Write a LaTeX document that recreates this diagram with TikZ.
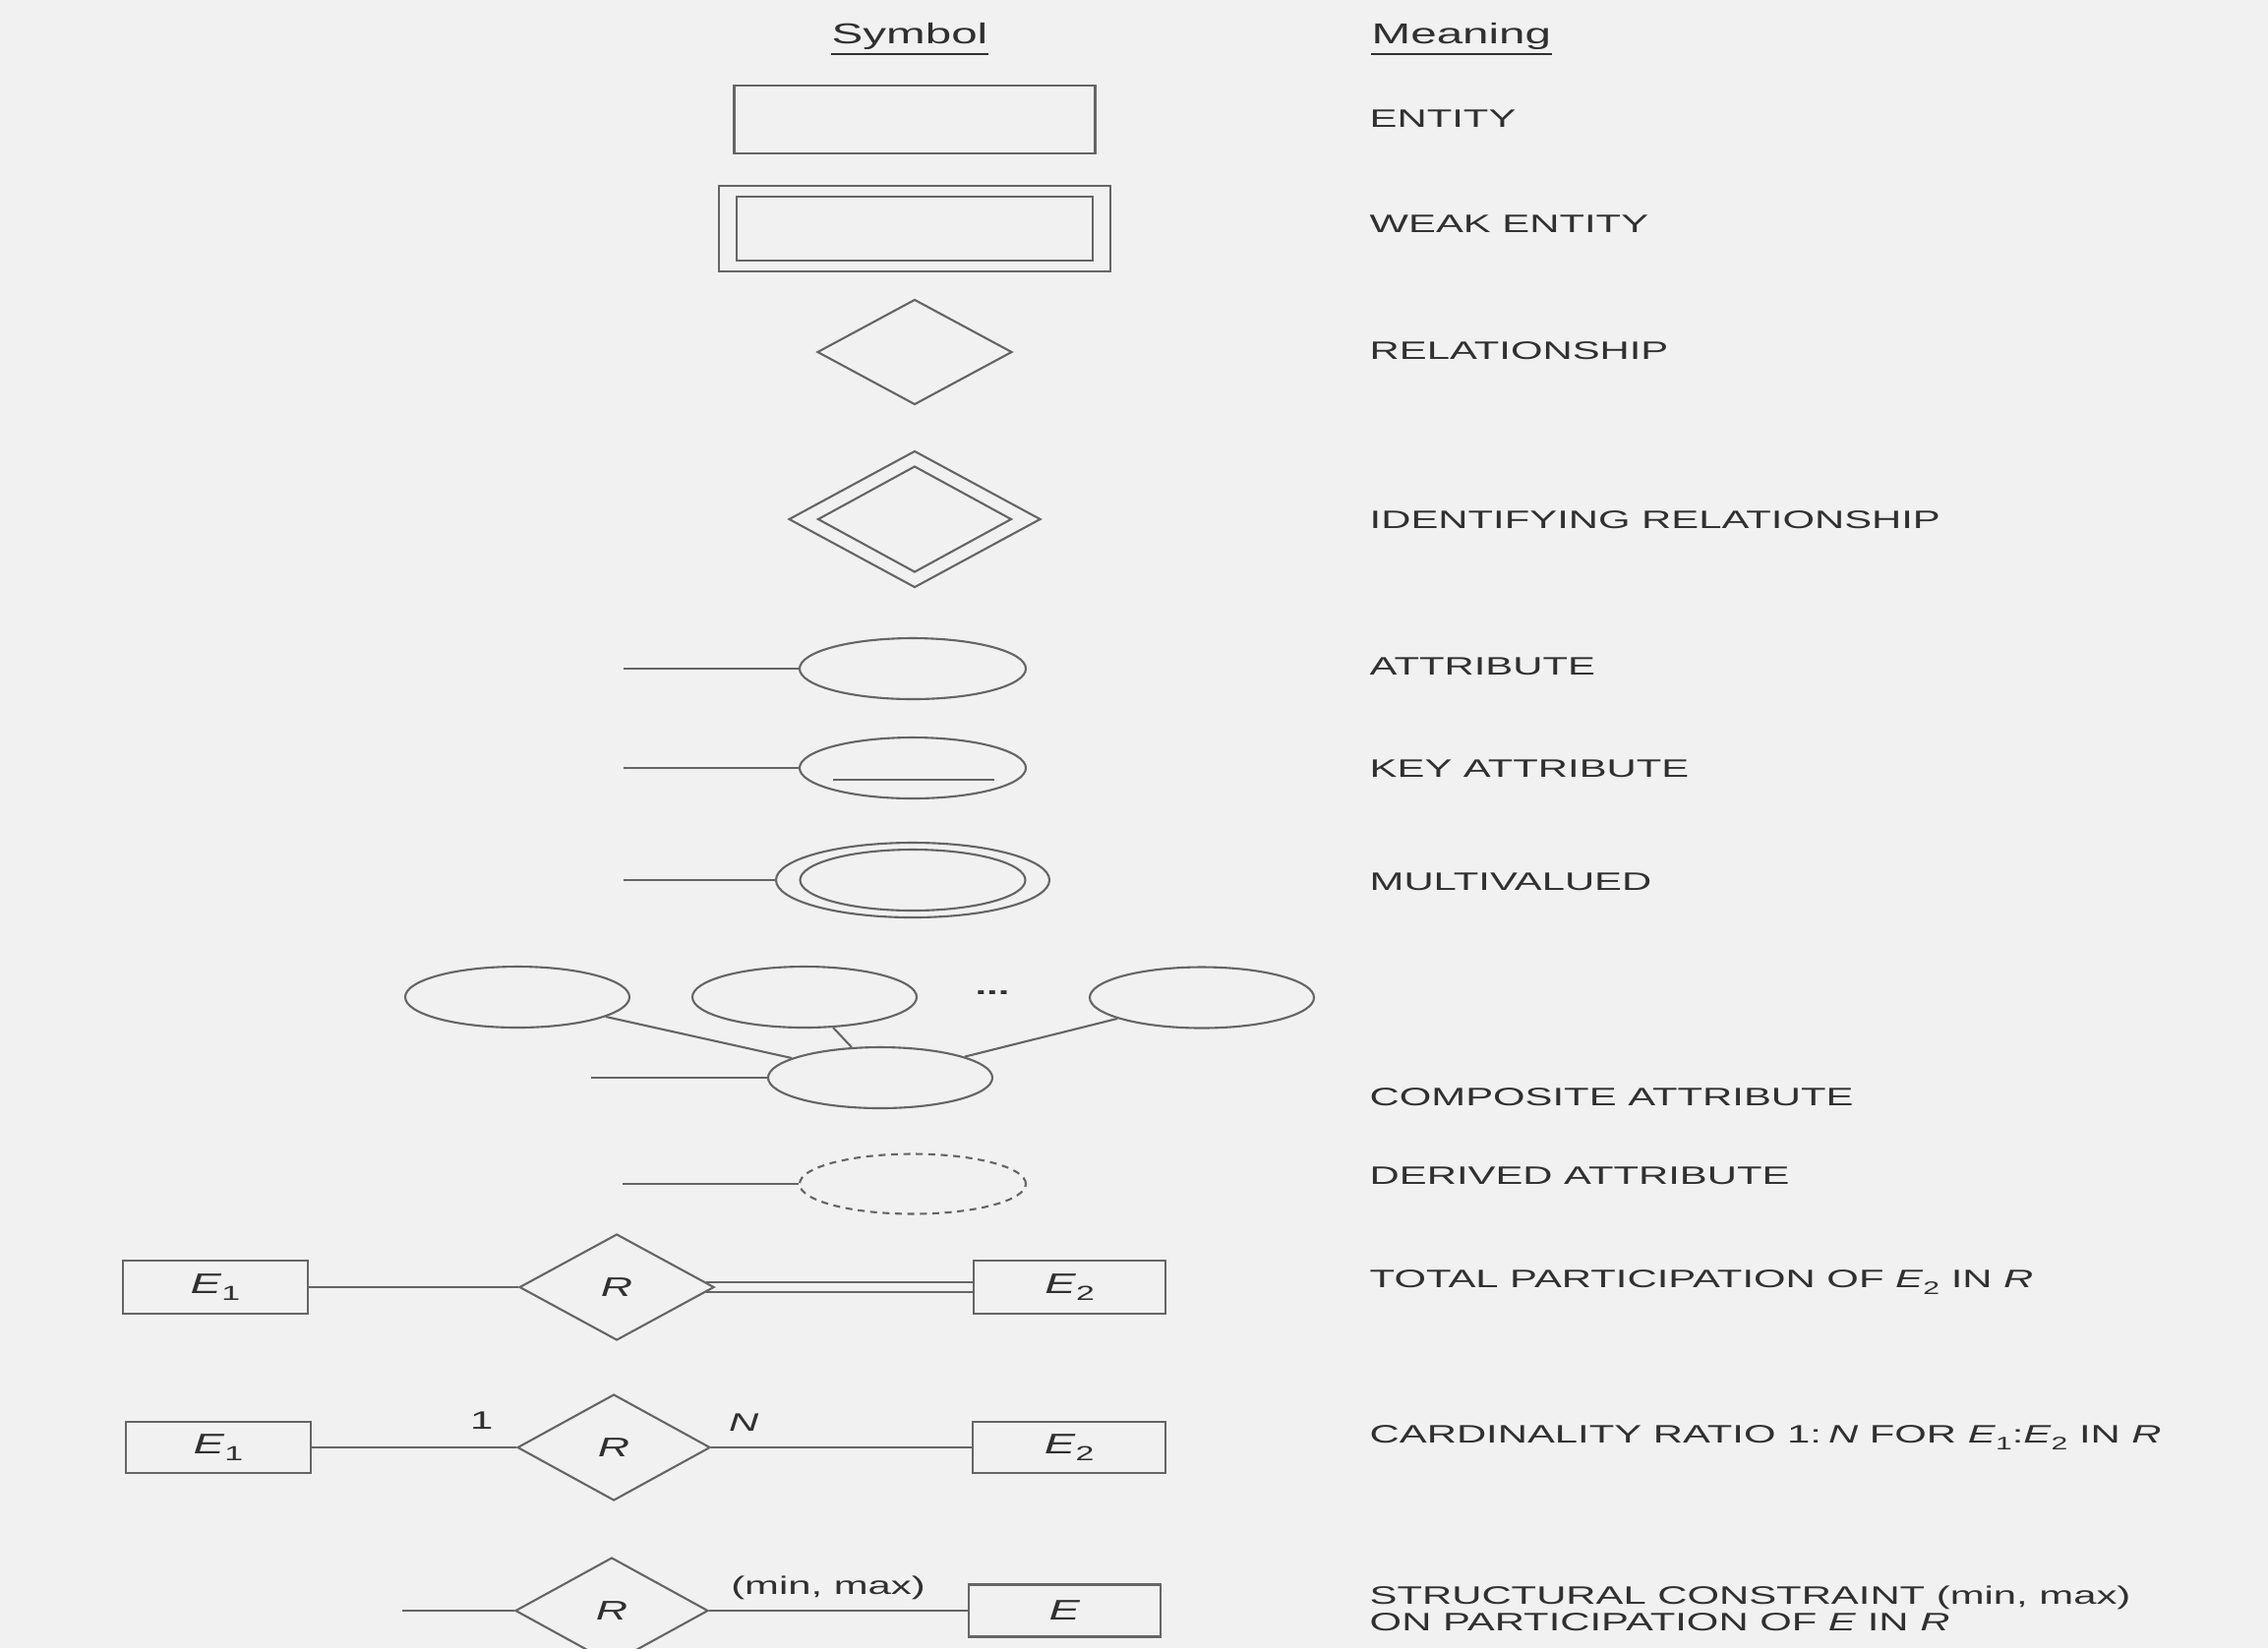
\documentclass[tikz,border=0pt]{standalone}
\usepackage{graphicx}
\usepackage{fontspec}
\setmainfont{Liberation Sans}
\usetikzlibrary{shapes.geometric,positioning,calc}

\definecolor{paper}{HTML}{F1F1F1}
\definecolor{ink}{HTML}{656565}
\definecolor{txt}{HTML}{303030}
\newcommand{\stretchtxt}[1]{\scalebox{1.63}[1]{#1}}
\newcommand{\lowsub}[1]{\raisebox{-0.45ex}{\scalebox{0.72}{#1}}}

\begin{document}
\begin{tikzpicture}[
    entity/.style={rectangle, draw=ink, line width=0.6pt, inner sep=0pt,
                   text=txt, font=\fontsize{8.2}{9}\selectfont},
    rel/.style={diamond, draw=ink, line width=0.6pt, inner sep=0pt,
                text=txt, font=\fontsize{7.8}{9}\selectfont},
    attr/.style={ellipse, draw=ink, line width=0.6pt, inner sep=0pt,
                 minimum width=2.30cm, minimum height=0.62cm},
    link/.style={draw=ink, line width=0.6pt},
    meaning/.style={anchor=west, text=txt, inner sep=0pt, align=left,
                    font=\fontsize{7.3}{6.3}\selectfont},
    lbl/.style={text=txt, inner sep=0pt, font=\fontsize{7.3}{8}\selectfont},
    head/.style={text=txt, inner sep=0pt, font=\fontsize{8.3}{10}\selectfont}
  ]
  \useasboundingbox (0,0) rectangle (23.06,-16.76);
  \fill[paper] (0,0) rectangle (23.06,-16.76);
  \clip (0,0) rectangle (23.06,-16.76);

  % ---- Headings ----
  \node[head, anchor=base] (sym) at (9.25,-0.44) {\stretchtxt{Symbol}};
  \node[head, anchor=base west] (mean) at (13.94,-0.44) {\stretchtxt{Meaning}};
  \draw[txt, line width=0.6pt] ([yshift=-0.11cm]sym.base west) -- ([yshift=-0.11cm]sym.base east);
  \draw[txt, line width=0.6pt] ([yshift=-0.11cm]mean.base west) -- ([yshift=-0.11cm]mean.base east);

  % ---- Entities and relationships ----
  \node[entity, minimum width=3.67cm, minimum height=0.69cm] (ent) at (9.30,-1.215) {};
  \node[entity, minimum width=3.98cm, minimum height=0.87cm] (weako) at (9.30,-2.325) {};
  \node[entity, minimum width=3.62cm, minimum height=0.65cm] (weaki) at (9.30,-2.325) {};
  \node[rel, minimum width=1.98cm, minimum height=1.07cm] (rel) at (9.30,-3.58) {};
  \node[rel, minimum width=2.56cm, minimum height=1.39cm] (idro) at (9.30,-5.28) {};
  \node[rel, minimum width=1.97cm, minimum height=1.08cm] (idri) at (9.30,-5.28) {};

  % ---- Attributes ----
  \node[attr] (att) at (9.28,-6.80) {};
  \coordinate (att0) at (6.34,-6.80);
  \draw[link] (att0) -- (att);

  \node[attr] (katt) at (9.28,-7.81) {};
  \coordinate (katt0) at (6.34,-7.81);
  \draw[link] (katt0) -- (katt);
  \draw[link] ([xshift=-0.81cm,yshift=-0.12cm]katt.center) -- ([xshift=0.83cm,yshift=-0.12cm]katt.center);

  \node[attr, minimum width=2.78cm, minimum height=0.76cm] (mvo) at (9.28,-8.95) {};
  \node[attr, minimum width=2.29cm] (mvi) at (9.28,-8.95) {};
  \coordinate (mv0) at (6.34,-8.95);
  \draw[link] (mv0) -- (mvo);

  % ---- Composite ----
  \node[attr, minimum width=2.28cm] (comp) at (8.95,-10.96) {};
  \node[attr, minimum width=2.28cm] (compa) at (5.26,-10.14) {};
  \node[attr, minimum width=2.28cm] (compb) at (8.18,-10.14) {};
  \node[attr, minimum width=2.28cm] (compc) at (12.22,-10.145) {};
  \node[lbl] (dots) at (10.09,-10.10) {\stretchtxt{\textbf{...}}};
  \coordinate (comp0) at (6.01,-10.96);
  \draw[link] (comp0) -- (comp);
  \draw[link] (compa) -- (comp);
  \draw[link] (compb) -- (comp);
  \draw[link] (compc) -- (comp);

  % ---- Derived ----
  \node[attr, dash pattern=on 2pt off 1.6pt, minimum height=0.61cm] (der) at (9.28,-12.04) {};
  \coordinate (der0) at (6.33,-12.04);
  \draw[link] (der0) -- (der);

  % ---- Total participation ----
  \node[entity, minimum width=1.88cm, minimum height=0.54cm] (e1a) at (2.19,-13.09) {\stretchtxt{\textit{E}\lowsub{1}}};
  \node[rel, minimum width=1.98cm, minimum height=1.08cm, right=2.13cm of e1a] (ra) {\stretchtxt{\textit{R}}};
  \node[entity, minimum width=1.95cm, minimum height=0.54cm, right=2.62cm of ra] (e2a) {\stretchtxt{\textit{E}\lowsub{2}}};
  \draw[link] (e1a) -- (ra);
  \coordinate (ta) at ($(ra.east)!0.09!(ra.north)$);
  \coordinate (tb) at ($(ra.east)!0.09!(ra.south)$);
  \draw[link] (ta) -- (ta -| e2a.west);
  \draw[link] (tb) -- (tb -| e2a.west);

  % ---- Cardinality ----
  \node[entity, minimum width=1.88cm, minimum height=0.52cm] (e1b) at (2.22,-14.72) {\stretchtxt{\textit{E}\lowsub{1}}};
  \node[rel, minimum width=1.96cm, minimum height=1.08cm, right=2.08cm of e1b] (rb) {\stretchtxt{\textit{R}}};
  \node[entity, minimum width=1.96cm, minimum height=0.52cm, right=2.65cm of rb] (e2b) {\stretchtxt{\textit{E}\lowsub{2}}};
  \draw[link] (e1b) -- node[lbl, pos=0.83, above=0.17cm] {\stretchtxt{1}} (rb);
  \draw[link] (rb) -- node[lbl, pos=0.125, above=0.15cm] {\stretchtxt{\textit{N}}} (e2b);

  % ---- Structural constraint ----
  \node[rel, minimum width=1.96cm, minimum height=1.08cm] (rc) at (6.22,-16.38) {\stretchtxt{\textit{R}}};
  \node[entity, minimum width=1.95cm, minimum height=0.53cm, right=2.63cm of rc] (ec) {\stretchtxt{\textit{E}}};
  \coordinate (rc0) at (4.09,-16.38);
  \draw[link] (rc0) -- (rc);
  \draw[link] (rc) -- node[lbl, pos=0.46, above=0.1cm] {\stretchtxt{(min, max)}} (ec);

  % ---- Meanings ----
  \node[meaning] (mEnt)  at (13.92,-1.21)  {\stretchtxt{ENTITY}};
  \node[meaning] (mWeak) at (13.92,-2.28)  {\stretchtxt{WEAK ENTITY}};
  \node[meaning] (mRel)  at (13.92,-3.57)  {\stretchtxt{RELATIONSHIP}};
  \node[meaning] (mIdr)  at (13.92,-5.29)  {\stretchtxt{IDENTIFYING RELATIONSHIP}};
  \node[meaning] (mAtt)  at (13.92,-6.78)  {\stretchtxt{ATTRIBUTE}};
  \node[meaning] (mKey)  at (13.92,-7.82)  {\stretchtxt{KEY ATTRIBUTE}};
  \node[meaning] (mMv)   at (13.92,-8.97)  {\stretchtxt{MULTIVALUED}};
  \node[meaning] (mComp) at (13.92,-11.16) {\stretchtxt{COMPOSITE ATTRIBUTE}};
  \node[meaning] (mDer)  at (13.92,-11.96) {\stretchtxt{DERIVED ATTRIBUTE}};
  \node[meaning] (mTot)  at (13.92,-13.04) {\stretchtxt{TOTAL PARTICIPATION OF \textit{E}\lowsub{2} IN \textit{R}}};
  \node[meaning] (mCard) at (13.92,-14.62) {\stretchtxt{CARDINALITY RATIO 1:\,\textit{N} FOR \textit{E}\lowsub{1}:\textit{E}\lowsub{2} IN \textit{R}}};
  \node[meaning] (mStr)  at (13.92,-16.36) {\stretchtxt{STRUCTURAL CONSTRAINT (min, max)}\\
                                            \stretchtxt{ON PARTICIPATION OF \textit{E} IN \textit{R}}};
\end{tikzpicture}
\end{document}
